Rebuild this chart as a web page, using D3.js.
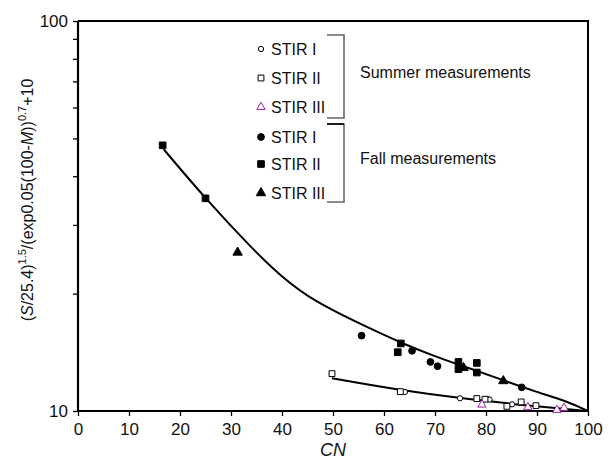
<!DOCTYPE html>
<html>
<head>
<meta charset="utf-8">
<script src="https://cdn.jsdelivr.net/npm/d3@7"></script>
<style>
  body { margin: 0; background: #fff; }
  svg { display: block; font-family: "Liberation Sans", Arial, Helvetica, sans-serif; }
</style>
</head>
<body>
<svg id="chart" width="610" height="461"></svg>
<script>
// ---------- data ----------
const xTicks = [0, 10, 20, 30, 40, 50, 60, 70, 80, 90, 100];
const yTicks = [10, 20, 30, 40, 50, 60, 70, 80, 90, 100];
const yTickLabels = ["10", "", "", "", "", "", "", "", "", "100"];

// Summer measurements [CN, value]
const summerI   = [[64.1, 11.19], [74.9, 10.78], [80.3, 10.73], [80.7, 10.70], [85.1, 10.40]];
const summerII  = [[49.8, 12.47], [63.2, 11.21], [78.2, 10.76], [79.8, 10.72], [84.1, 10.28], [86.9, 10.55], [89.8, 10.32]];
const summerIII = [[79.2, 10.38], [88.2, 10.22], [93.9, 10.06], [95.3, 10.18]];
// Fall measurements [CN, value]
const fallI   = [[55.6, 15.6], [65.5, 14.27], [69.1, 13.36], [70.5, 13.03], [87.0, 11.5]];
const fallII  = [[16.6, 48.0], [25.0, 35.1], [63.3, 14.9], [62.7, 14.15], [74.6, 13.36], [74.6, 12.8], [78.2, 13.28], [78.2, 12.55]];
const fallIII = [[31.3, 25.5], [75.6, 12.9], [83.4, 11.94]];

// Fitted curves
const fallFitCN = [16.8, 25.0, 34.5, 39.7, 46.2, 56.7, 63.2, 69.7, 76.3, 82.8, 89.2, 95.8, 100];
const fallFitY  = [46.9, 35.0, 25.8, 22.2, 19.1, 16.4, 14.98, 13.85, 12.92, 12.08, 11.26, 10.61, 10.0];
const summerFitCN = [49.8, 63.2, 76.3, 89.2, 100];
const summerFitY  = [12.13, 11.30, 10.72, 10.30, 10.0];

const legendLabels = ["STIR I", "STIR II", "STIR III", "STIR I", "STIR II", "STIR III"];
const groupLabels = ["Summer measurements", "Fall measurements"];

// ---------- drawing ----------
const svg = d3.select("#chart");
const x = d3.scaleLinear().domain([0, 100]).range([78, 588]);
const y = d3.scaleLog().domain([10, 100]).range([411, 21]);
const FONT = 17;

// frame (top and right)
svg.append("path")
  .attr("d", `M${x(0)},${y(100)}H${x(100)}V${y(10)}`)
  .attr("fill", "none").attr("stroke", "#000").attr("stroke-width", 2);

// axes
const xAxis = svg.append("g").attr("transform", `translate(0,${y(10)})`)
  .call(d3.axisBottom(x).tickValues(xTicks).tickSize(5).tickPadding(7).tickFormat(d3.format("d")));
const yAxis = svg.append("g").attr("transform", `translate(${x(0)},0)`)
  .call(d3.axisLeft(y).tickValues(yTicks).tickSize(5).tickPadding(5)
    .tickFormat((d, i) => yTickLabels[i]));
[xAxis, yAxis].forEach(g => {
  g.select(".domain").attr("stroke-width", 2.2);
  g.selectAll(".tick line").attr("stroke-width", 1.3);
  g.selectAll("text").attr("font-size", FONT).attr("font-family", "Liberation Sans, Arial, sans-serif").attr("fill", "#111");
});
xAxis.select(".domain").attr("d", `M${x(0)},0H${x(100)}`);
yAxis.select(".domain").attr("d", `M0,${y(10)}V${y(100)}`);

// axis titles
svg.append("text").attr("x", x(50)).attr("y", 456)
  .attr("text-anchor", "middle").attr("font-size", 18).attr("font-style", "italic").attr("fill", "#111")
  .text("CN");

const yt = svg.append("text")
  .attr("transform", `translate(33,${200}) rotate(-90)`)
  .attr("text-anchor", "middle").attr("font-size", 16).attr("fill", "#111");
yt.append("tspan").text("(");
yt.append("tspan").attr("font-style", "italic").text("S");
yt.append("tspan").text("/25.4)");
yt.append("tspan").attr("font-size", 11).attr("dy", -7).text("1.5");
yt.append("tspan").attr("dy", 7).text("/(exp0.05(100-");
yt.append("tspan").attr("font-style", "italic").text("M");
yt.append("tspan").text("))");
yt.append("tspan").attr("font-size", 11).attr("dy", -7).text("0.7");
yt.append("tspan").attr("dy", 7).text("+10");

// fitted curves
const line = d3.line().x(d => x(d[0])).y(d => y(d[1])).curve(d3.curveBasis);
svg.append("path").datum(fallFitCN.map((c, i) => [c, fallFitY[i]]))
  .attr("d", line).attr("fill", "none").attr("stroke", "#000").attr("stroke-width", 2);
svg.append("path").datum(summerFitCN.map((c, i) => [c, summerFitY[i]]))
  .attr("d", line).attr("fill", "none").attr("stroke", "#000").attr("stroke-width", 2);

// markers
const purple = "#9b1d9b";
const styles = [
  { type: d3.symbolCircle, size: 22, fill: "#fff", stroke: "#000" },
  { type: d3.symbolSquare, size: 34, fill: "#fff", stroke: "#000" },
  { type: d3.symbolTriangle, size: 30, fill: "#fff", stroke: purple },
  { type: d3.symbolCircle, size: 36, fill: "#000", stroke: "#000" },
  { type: d3.symbolSquare, size: 44, fill: "#000", stroke: "#000" },
  { type: d3.symbolTriangle, size: 38, fill: "#000", stroke: "#000" }
];
const seriesList = [summerI, summerII, summerIII, fallI, fallII, fallIII];
seriesList.forEach((data, k) => {
  const st = styles[k];
  svg.append("g").selectAll("path").data(data).join("path")
    .attr("transform", d => `translate(${x(d[0])},${y(d[1])})`)
    .attr("d", d3.symbol().type(st.type).size(st.size))
    .attr("fill", st.fill).attr("stroke", st.stroke).attr("stroke-width", 1);
});

// legend
const rowY = [49, 78, 107, 137, 164, 193];
const lg = svg.append("g");
legendLabels.forEach((lab, k) => {
  const st = styles[k];
  lg.append("path").attr("transform", `translate(261,${rowY[k]})`)
    .attr("d", d3.symbol().type(st.type).size(st.size))
    .attr("fill", st.fill).attr("stroke", st.stroke).attr("stroke-width", 1);
  lg.append("text").attr("x", 271).attr("y", rowY[k] + 6)
    .attr("font-size", 16).attr("fill", "#111").text(lab);
});
// brackets
const brackets = [[35, 118], [124, 202]];
brackets.forEach((b, i) => {
  lg.append("path").attr("d", `M327,${b[0]}H344V${b[1]}H327`)
    .attr("fill", "none").attr("stroke", "#666").attr("stroke-width", 1.6);
  lg.append("text").attr("x", 360).attr("y", (b[0] + b[1]) / 2 + 1)
    .attr("font-size", 16).attr("fill", "#111").text(groupLabels[i]);
});
lg.append("path").attr("d", `M327,124H344`).attr("stroke", "#000").attr("stroke-width", 1.6);
</script>
</body>
</html>
